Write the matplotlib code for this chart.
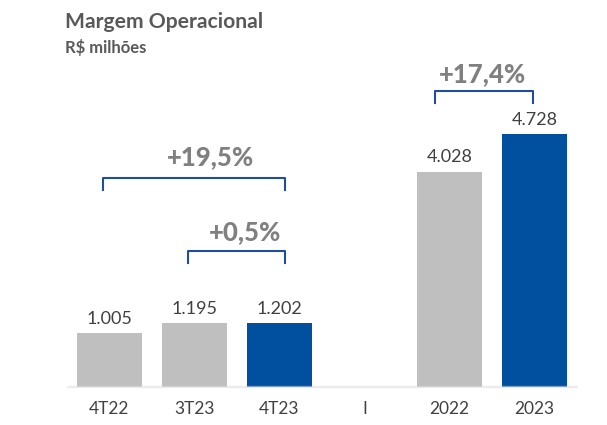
import matplotlib
matplotlib.use("Agg")
import matplotlib.pyplot as plt
from matplotlib import font_manager

categories = ["4T22", "3T23", "4T23", "I", "2022", "2023"]
values = [1005, 1195, 1202, None, 4028, 4728]
value_labels = ["1.005", "1.195", "1.202", "", "4.028", "4.728"]
highlight = [False, False, True, False, False, True]
growth_labels = ["+19,5%", "+0,5%", "+17,4%"]

GRAY = "#bfbfbf"
BLUE = "#00509f"
TXT = "#404040"
PCT = "#808080"
TITLE = "#595959"

plt.rcParams["font.family"] = ["Lato", "DejaVu Sans"]

# heaviest available Lato weight for the growth labels
heavy = "bold"
for f in font_manager.fontManager.ttflist:
    if f.name == "Lato" and f.weight in (800, 900, "black", "heavy"):
        heavy = "black"
        break

W, H = 607, 425
fig = plt.figure(figsize=(W / 100, H / 100), dpi=100)
base_px = 38.0
ax = fig.add_axes([0, base_px / H, 1, 1 - base_px / H])
ax.set_xlim(-109.2 / 85.1, (W - 109.2) / 85.1)
ax.set_ylim(0, 7234)
ax.axis("off")

xs = list(range(len(categories)))
for x, v, hl, lab in zip(xs, values, highlight, value_labels):
    if v is None:
        continue
    ax.bar(x, v, width=0.767, color=BLUE if hl else GRAY, zorder=2)
    ax.annotate(lab, (x, v), xytext=(0, 6.5), textcoords="offset points",
                ha="center", va="baseline", fontsize=13, color=TXT)

for x, c in zip(xs, categories):
    ax.annotate(c, (x, 0), xytext=(0, -19.4), textcoords="offset points",
                ha="center", va="baseline", fontsize=12.5, color=TXT)

ax.plot([-0.5, 5.505], [0, 0], color="#dddddd", alpha=0.55, lw=1.7, zorder=3,
        solid_capstyle="butt", clip_on=False)

# brackets (annotation geometry)
bracket_specs = [
    # (x_left, x_right, y_top, y_bottom, text_x, text_y)
    (-0.073, 2.066, 3912, 3682, 1.185, 4150),
    (0.922, 2.066, 2548, 2318, 1.596, 2748),
    (3.828, 4.977, 5538, 5308, 4.392, 5701),
]
for (xl, xr, yt, yb, tx, ty), g in zip(bracket_specs, growth_labels):
    ax.plot([xl, xl, xr, xr], [yb, yt, yt, yb], color="#1f4e9c", lw=1.5,
            solid_joinstyle="round", zorder=3)
    ax.text(tx, ty, g, ha="center", va="baseline", fontsize=18.5,
            fontweight=heavy, color=PCT)

fig.text(65 / W, 1 - 28.3 / H, "Margem Operacional", fontsize=15.2,
         fontweight="bold", color=TITLE, ha="left", va="baseline")
fig.text(65 / W, 1 - 53.3 / H, "R$ milhões", fontsize=12,
         fontweight="bold", color=TITLE, ha="left", va="baseline")

fig.savefig("out.png", dpi=100)
